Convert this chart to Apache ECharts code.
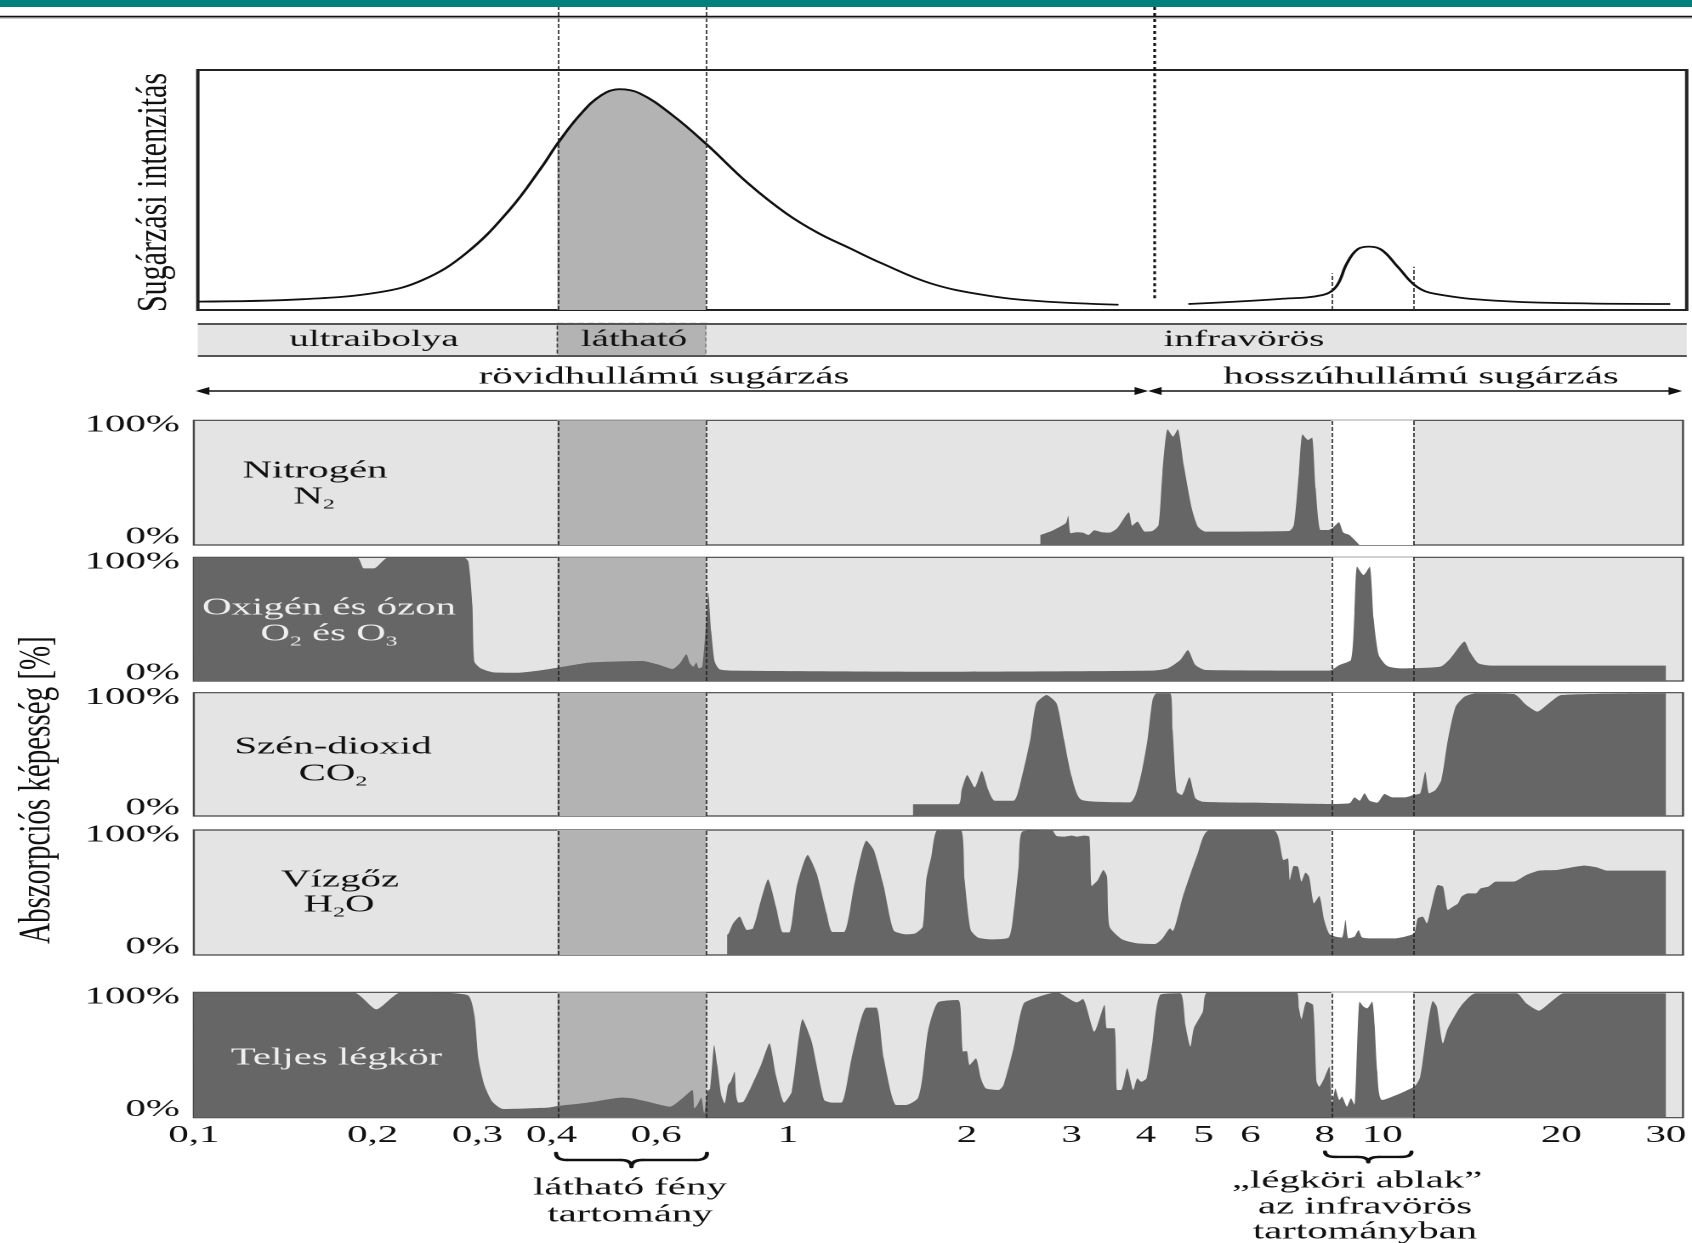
<!DOCTYPE html>
<html>
<head>
<meta charset="utf-8">
<script src="https://cdn.jsdelivr.net/npm/echarts@6/dist/echarts.min.js"></script>
<style>
  html, body { margin: 0; padding: 0; background: #fff; overflow: hidden; }
  /* the drawing is laid out narrow and widened horizontally, giving the wide lettering */
  #chart { width: 995px; height: 1243px; transform: scaleX(1.700502513); transform-origin: 0 0; }
</style>
</head>
<body>
<div id="chart"></div>
<script>
// ---------------- data (wavelength in µm, absorption / intensity in %) ----------------
const xTicks = [0.1, 0.2, 0.3, 0.4, 0.6, 1, 2, 3, 4, 5, 6, 8, 10, 20, 30];
const visibleBand = [0.409, 0.728];
const irWindow = [8.2, 11.28];
const waveSplit = 4.137;

// incoming solar radiation
const solarCurve = [[0.1016,3.5],[0.153,4.5],[0.2052,7.4],[0.2428,12.5],[0.2871,23.6],[0.3398,41.7],[0.3854,59.7],
  [0.409,69.2],[0.4465,81.3],[0.4857,89.6],[0.5204,92],[0.5625,90.3],[0.6379,81.3],[0.728,69.2],[0.8561,52.8],
  [0.992,40.3],[1.125,32],[1.271,25.7],[1.439,19.4],[1.737,11.1],[2.136,6.25],[2.633,3.75],[3.597,2.2]];
// outgoing terrestrial radiation
const earthCurve = [[4.715,2.5],[6.714,4.6],[7.934,6.25],[8.356,9.7],[8.713,19.4],[9.081,25.3],[9.506,26.4],
  [9.972,25],[10.61,18],[11.42,9.7],[12.28,6.7],[15.44,3.9],[21.09,2.8],[30.48,2.5]];

const nitrogen = [[2.658,8],[2.775,11.2],[2.932,17.4],[2.96,23.5],[2.989,9.4],[3.061,10.2],[3.133,9.9],[3.202,8],
  [3.277,11.8],[3.375,10.2],[3.475,9.9],[3.579,13.4],[3.744,26.2],[3.795,15.5],[3.871,18.7],[3.985,10.7],[4.104,11.2],
  [4.202,16],[4.267,58.8],[4.352,92.8],[4.446,86.9],[4.526,92.8],[4.632,64.2],[4.779,29.4],[4.894,14.7],[5.04,10.7],
  [6.962,11.2],[7.098,16],[7.24,58.8],[7.339,88.8],[7.499,84.2],[7.616,86.1],[7.723,45.5],[7.875,12],[8.11,12],
  [8.236,13.4],[8.45,18.2],[8.599,9.9],[8.803,8],[9.155,0]];

const oxygenOzone = [[0.1,100],[0.1879,100],[0.1933,91],[0.2009,91],[0.2129,100],[0.2842,100],[0.2898,96.5],
  [0.2943,61],[0.2966,15.6],[0.3041,10.2],[0.3191,7],[0.3515,6.7],[0.3869,8.9],[0.4093,10.8],[0.4603,14.8],
  [0.4972,15.6],[0.5689,16.2],[0.6029,13.5],[0.6388,9.7],[0.6577,14.3],[0.6743,21.6],[0.6834,14.3],[0.6928,11.6],
  [0.7008,15.1],[0.7077,10.2],[0.7172,11.6],[0.7283,48],[0.734,71.7],[0.7425,39.9],[0.7527,15.6],[0.7674,9.4],
  [0.8048,8.4],[1.733,7.5],[4.104,8.4],[4.352,10.2],[4.57,17],[4.707,25],[4.848,12.9],[5.04,8.9],[8.142,8.4],
  [8.468,12.9],[8.856,17],[8.977,56],[9.067,92.5],[9.299,85.7],[9.521,92.5],[9.668,50.7],[9.86,21],[10.19,12.1],
  [10.71,10.2],[12.52,11.6],[13.02,18.3],[13.75,31.8],[14.03,23.7],[14.5,14.3],[15.23,12.4],[30,12.4]];

const carbonDioxide = [[1.623,9.5],[1.932,9.5],[1.959,21],[2.002,33.2],[2.061,23.2],[2.118,36.5],[2.173,21],
  [2.229,12.4],[2.395,12.4],[2.467,29.2],[2.555,61.6],[2.617,91.4],[2.722,98.1],[2.83,91.4],[2.914,61.6],[3.001,31.9],
  [3.121,13],[3.758,11.1],[3.908,29.2],[4.025,61.6],[4.104,94],[4.169,99.5],[4.395,99.5],[4.438,69.7],[4.509,19.7],
  [4.597,17],[4.735,31.4],[4.848,14.3],[4.989,11.6],[6.069,10.8],[8.142,9.7],[8.803,10.3],[8.977,15.1],[9.155,12.4],
  [9.333,18.4],[9.521,12.4],[9.804,10.8],[10.09,17.8],[10.39,15.1],[10.92,15.1],[11.28,17],[11.58,18.4],[11.81,35.9],
  [11.99,18.4],[12.28,21],[12.57,29.2],[12.89,61.6],[13.28,88.6],[13.75,96.8],[14.36,99.5],[16.63,98.9],[17.47,90],
  [18.23,84.6],[19.07,91.4],[20.02,98.1],[30,99.5]];

const waterVapour = [[0.7897,16],[0.7943,17.3],[0.8082,25.3],[0.8287,30.7],[0.8528,20],[0.8729,21.3],[0.9004,44],
  [0.9252,60.5],[0.9542,38.7],[0.9804,18.1],[1.005,18.1],[1.034,54.7],[1.079,80],[1.117,65.3],[1.161,33.3],
  [1.188,18.4],[1.242,18.4],[1.291,54.7],[1.355,91.5],[1.394,84],[1.449,54.7],[1.506,19.5],[1.58,16.5],[1.637,17.3],
  [1.685,22.7],[1.708,60],[1.742,78.7],[1.787,100],[1.951,100],[1.982,60],[2.029,20],[2.089,13.9],[2.194,12.5],
  [2.35,13.9],[2.395,33.3],[2.443,70.7],[2.477,98.7],[2.775,100],[2.83,95.2],[2.914,94.7],[3.001,95.5],[3.061,94.7],
  [3.151,95.5],[3.214,94.7],[3.245,55.2],[3.321,60],[3.394,68],[3.441,62.7],[3.475,22.7],[3.649,12.5],[3.871,9.3],
  [4.145,8.8],[4.267,13.3],[4.395,21.3],[4.438,19.2],[4.616,46.7],[4.892,81.3],[5.109,99.5],[6.564,99.5],[6.826,76],
  [6.934,77.3],[6.988,60],[7.098,71.2],[7.211,70.7],[7.31,58.7],[7.427,65.9],[7.529,62.7],[7.676,41.3],[7.83,47.2],
  [7.983,28],[8.142,16.8],[8.337,14.7],[8.549,13.9],[8.67,28],[8.77,13.3],[8.977,14.7],[9.12,20],[9.243,14.1],
  [9.521,13.3],[10.5,13.3],[10.92,14.7],[11.31,17.3],[11.47,29.3],[11.69,30.7],[11.88,25.3],[12.09,38.7],[12.4,56],
  [12.65,54.7],[12.89,36],[13.15,38.7],[13.41,41.3],[13.59,46.7],[13.94,49.3],[14.36,49.3],[14.64,53.3],[15.08,54.7],
  [15.53,58.7],[16.63,58.7],[17.47,64],[18.34,67.5],[19.64,68],[20.83,70.1],[21.87,71.5],[22.96,70.1],[23.88,67.5],
  [30,67.5]];

const wholeAtmosphere = [[0.1,100],[0.1853,100],[0.2029,86.4],[0.2234,100],[0.2683,99.5],[0.2898,97.3],[0.2966,81.9],
  [0.3012,47.3],[0.3083,26],[0.3179,12.8],[0.3316,6.9],[0.3945,8],[0.4093,9.3],[0.4603,12],[0.5267,16],[0.5475,15.4],
  [0.5801,12.8],[0.6327,8.8],[0.6637,15.4],[0.6901,22.1],[0.6955,7.4],[0.7035,10.1],[0.7142,16],[0.7226,3.5],
  [0.7311,20.7],[0.7396,23.4],[0.7511,58],[0.76,42],[0.7719,18.1],[0.7821,11.4],[0.7927,26],[0.802,29.3],[0.8128,36.7],
  [0.8176,18.1],[0.8254,12],[0.8414,12.8],[0.8694,26],[0.9004,42],[0.9302,59.3],[0.9539,34],[0.9854,12],[1.0144,20.7],
  [1.058,78.5],[1.096,60.6],[1.15,14.1],[1.184,12],[1.23,12],[1.279,47.3],[1.355,87.8],[1.408,87.8],[1.449,47.3],
  [1.521,10.1],[1.58,10.1],[1.653,15.4],[1.685,34],[1.719,68.6],[1.787,92],[1.932,93.9],[1.951,87.2],[1.97,52.7],
  [1.998,53.2],[2.021,42],[2.07,47.3],[2.111,31.4],[2.152,23.4],[2.26,22.1],[2.304,26],[2.395,55.3],[2.492,91.2],
  [2.642,96.5],[2.83,100],[3.061,92],[3.133,94.7],[3.277,68.6],[3.407,89.9],[3.441,71.3],[3.542,71.3],[3.579,22.1],
  [3.635,22.1],[3.722,39.4],[3.809,22.1],[3.871,31.4],[3.931,28.7],[4.01,31.4],[4.104,60.6],[4.227,97.9],[4.57,99.2],
  [4.662,73.9],[4.754,56.6],[4.818,71.3],[4.989,84.6],[5.089,100],[7.171,100],[7.24,87.2],[7.31,78.7],[7.456,92.6],
  [7.646,89.9],[7.753,28.7],[7.83,24.7],[7.983,31.4],[8.142,40.7],[8.236,11.4],[8.337,23.4],[8.468,14.1],[8.549,16.8],
  [8.72,8.8],[8.856,15.4],[8.977,10.1],[9.155,92.6],[9.299,88.6],[9.428,87.2],[9.612,92.6],[9.706,73.9],[9.804,36.7],
  [9.996,14.1],[11.31,24.7],[11.58,32.7],[11.92,73.9],[12.16,93.1],[12.35,88.6],[12.65,59.3],[12.89,71.3],[13.54,88.6],
  [14.36,99.2],[16.8,99.2],[17.47,91.2],[18.34,85.4],[19.25,92.6],[20.22,99.2],[30,99.2]];

const gasSeries = [nitrogen, oxygenOzone, carbonDioxide, waterVapour, wholeAtmosphere];

// ---------------- layout helpers (page pixels) ----------------
const FONT = '"Liberation Serif", "Times New Roman", serif';
const PAGE_W = 1692;
const S = PAGE_W / 995;          // horizontal widening factor
const px = v => v / S;           // page x -> canvas x

const topBox = { left: 197.8, right: 1686.7, min: 0.1016, max: 32.5 };
const panelBox = { left: 193.8, right: 1683, min: 0.1, max: 32.06 };
const panelRows = [[420.3, 124.7], [557.3, 123.7], [692.7, 123.3], [830, 125], [992.3, 125.4]];

function makeGrid(box, top, height, extra) {
  return Object.assign({
    left: px(box.left), right: px(PAGE_W - box.right), top: top, height: height,
    containLabel: false, outerBoundsMode: 'none'
  }, extra || {});
}

const grids = [
  makeGrid(topBox, 7, 63),
  makeGrid(topBox, 70, 240, { show: true, backgroundColor: '#fff', borderColor: '#222', borderWidth: 2 }),
  makeGrid(topBox, 323.3, 32.7),
  makeGrid(topBox, 380, 22)
].concat(panelRows.map(r => makeGrid(panelBox, r[0], r[1],
  { show: true, backgroundColor: '#e4e4e4', borderColor: '#444', borderWidth: 1.2 })));

const lastGrid = grids.length - 1;
const xAxes = grids.map((g, i) => {
  const box = i < 4 ? topBox : panelBox;
  return {
    type: 'log', logBase: 10, gridIndex: i, min: box.min, max: box.max, show: i >= 4,
    axisLine: { show: false }, axisTick: { show: false }, splitLine: { show: false },
    minorTick: { show: false }, minorSplitLine: { show: false },
    axisLabel: i === lastGrid ? {
      show: true, customValues: xTicks, interval: 0, hideOverlap: false,
      formatter: v => String(+Number(v).toPrecision(4)).replace('.', ','),
      fontFamily: FONT, fontSize: 24, color: '#111', margin: 6
    } : { show: false }
  };
});

const yAxes = grids.map((g, i) => {
  if (i < 4) return { type: 'value', gridIndex: i, min: 0, max: i === 1 ? 100 : 1, show: false };
  return {
    type: 'value', gridIndex: i, min: 0, max: 100, interval: 100,
    axisLine: { show: false }, axisTick: { show: false }, splitLine: { show: false },
    axisLabel: {
      margin: px(14),
      formatter: v => (v === 100 ? '{t|100%}' : '{b|0%}'),
      rich: {
        t: { fontFamily: FONT, fontSize: 24, color: '#111', padding: [10, 0, 0, 0] },
        b: { fontFamily: FONT, fontSize: 24, color: '#111', padding: [0, 0, 16, 0] }
      }
    }
  };
});

const thinDash = { color: '#222', width: 0.8, type: [4, 2] };
const boldDots = { color: '#111', width: 1.6, type: [3, 3] };
const quiet = { silent: true, animation: false };

// ---------------- series ----------------
const series = [];

// dividing lines above the intensity box
series.push(Object.assign({
  type: 'line', xAxisIndex: 0, yAxisIndex: 0, data: [[visibleBand[0], 0.5]],
  symbol: 'none', lineStyle: { opacity: 0 },
  markLine: { silent: true, symbol: 'none', label: { show: false }, lineStyle: thinDash,
    data: [{ xAxis: visibleBand[0] }, { xAxis: visibleBand[1] }, { xAxis: waveSplit, lineStyle: boldDots }] }
}, quiet));

// intensity: grey fill of the visible part
series.push(Object.assign({
  type: 'line', xAxisIndex: 1, yAxisIndex: 1, z: 2, smooth: 0.4, symbol: 'none',
  data: solarCurve.filter(p => p[0] >= visibleBand[0] && p[0] <= visibleBand[1]),
  lineStyle: { width: 0, opacity: 0 }, areaStyle: { color: '#b3b3b3', opacity: 1 }
}, quiet));

// intensity: solar curve
series.push(Object.assign({
  type: 'line', xAxisIndex: 1, yAxisIndex: 1, z: 3, smooth: 0.4, symbol: 'none', data: solarCurve,
  lineStyle: { color: '#111', width: 1.8 },
  markLine: { silent: true, symbol: 'none', label: { show: false }, lineStyle: thinDash,
    data: [
      { xAxis: visibleBand[0] }, { xAxis: visibleBand[1] },
      [{ coord: [waveSplit, 4.9], lineStyle: boldDots }, { coord: [waveSplit, 100] }]
    ] }
}, quiet));

// intensity: terrestrial curve
series.push(Object.assign({
  type: 'line', xAxisIndex: 1, yAxisIndex: 1, z: 3, smooth: 0.4, symbol: 'none', data: earthCurve,
  lineStyle: { color: '#111', width: 1.8 },
  markLine: { silent: true, symbol: 'none', label: { show: false }, lineStyle: thinDash,
    data: [
      [{ coord: [irWindow[0], 0] }, { coord: [irWindow[0], 15.3] }],
      [{ coord: [irWindow[1], 0] }, { coord: [irWindow[1], 18] }]
    ] }
}, quiet));

// spectral band bar
series.push(Object.assign({
  type: 'line', xAxisIndex: 2, yAxisIndex: 2, data: [[visibleBand[0], 0.5]],
  symbol: 'none', lineStyle: { opacity: 0 },
  markArea: { silent: true, label: { show: false },
    data: [
      [{ xAxis: topBox.min, itemStyle: { color: '#e4e4e4' } }, { xAxis: visibleBand[0] }],
      [{ xAxis: visibleBand[0], itemStyle: { color: '#b3b3b3', borderColor: '#333', borderWidth: 0.8, borderType: [4, 2] } }, { xAxis: visibleBand[1] }],
      [{ xAxis: visibleBand[1], itemStyle: { color: '#e4e4e4' } }, { xAxis: topBox.max }]
    ] },
  markLine: { silent: true, symbol: 'none', label: { show: false },
    lineStyle: { color: '#555', width: 2, type: 'solid' },
    data: [{ yAxis: 0 }, { yAxis: 1 }] }
}, quiet));

// short-wave / long-wave arrows
series.push(Object.assign({
  type: 'line', xAxisIndex: 3, yAxisIndex: 3, data: [[1, 0.5]],
  symbol: 'none', lineStyle: { opacity: 0 },
  markLine: { silent: true, symbol: ['triangle', 'triangle'], symbolSize: [8, 8], label: { show: false },
    lineStyle: { color: '#111', width: 1.5, type: 'solid' },
    data: [
      [{ coord: [0.1035, 0.5] }, { coord: [3.93, 0.5] }],
      [{ coord: [4.14, 0.5] }, { coord: [31.1, 0.5] }]
    ] }
}, quiet));

// absorption panels
gasSeries.forEach((data, k) => {
  const i = 4 + k;
  series.push(Object.assign({
    type: 'line', xAxisIndex: i, yAxisIndex: i, z: 2, smooth: 0.2, symbol: 'none', data: data,
    lineStyle: { width: 0, opacity: 0 }, areaStyle: { color: '#666', opacity: 1 },
    markArea: { silent: true, label: { show: false },
      data: [
        [{ xAxis: visibleBand[0], itemStyle: { color: '#b3b3b3' } }, { xAxis: visibleBand[1] }],
        [{ xAxis: irWindow[0], itemStyle: { color: '#fff' } }, { xAxis: irWindow[1] }]
      ] },
    markLine: { silent: true, symbol: 'none', label: { show: false }, lineStyle: thinDash,
      data: [visibleBand[0], visibleBand[1], irWindow[0], irWindow[1]].map(v => ({ xAxis: v })) }
  }, quiet));
});

// ---------------- texts and decorations ----------------
function text(x, y, str, size, opts) {
  opts = opts || {};
  return {
    type: 'text', x: px(x), y: y, z: 100, silent: true,
    rotation: opts.rotation || 0, scaleY: opts.scaleY || 1,
    style: {
      text: str, font: size + 'px ' + FONT, fill: opts.fill || '#111',
      textAlign: 'center', textVerticalAlign: 'middle', align: 'center', verticalAlign: 'middle',
      lineHeight: opts.lineHeight, rich: opts.rich
    }
  };
}
const sub = fill => ({ s: { fontSize: 14, fontFamily: FONT, lineHeight: 14, verticalAlign: 'bottom', fill: fill } });

// curly brace opening downwards, made of quadratic curves and straight pieces
function brace(x0, x1, y0, h) {
  const a = px(x0), b = px(x1), c = (a + b) / 2, r = px(11), ym = y0 + h * 0.5, yt = y0 + h;
  const st = { stroke: '#111', lineWidth: 2.4, fill: null, lineCap: 'round' };
  const curve = (sx, sy, cx, cy, ex, ey) => ({ type: 'bezierCurve', z: 100, silent: true,
    shape: { x1: sx, y1: sy, cpx1: cx, cpy1: cy, x2: ex, y2: ey }, style: st });
  const line = (sx, ex) => ({ type: 'line', z: 100, silent: true,
    shape: { x1: sx, y1: ym, x2: ex, y2: ym }, style: st });
  return [
    curve(a, y0, a, ym, a + r, ym), line(a + r, c - r), curve(c - r, ym, c, ym, c, yt),
    curve(c, yt, c, ym, c + r, ym), line(c + r, b - r), curve(b - r, ym, b, ym, b, y0)
  ];
}

const light = '#eeeeee';
const graphics = [
  { type: 'rect', z: 100, silent: true, shape: { x: 0, y: 0, width: 995, height: 7 }, style: { fill: '#00807c' } },
  { type: 'rect', z: 100, silent: true, shape: { x: 0, y: 15.8, width: 995, height: 1.6 }, style: { fill: '#111' } },
  { type: 'rect', z: 100, silent: true, shape: { x: 0, y: 17.6, width: 995, height: 1 }, style: { fill: '#aaa' } },

  text(154.5, 192.5, 'Sugárzási intenzitás', 30, { rotation: Math.PI / 2, scaleY: 0.85 }),
  text(37.5, 790, 'Abszorpciós képesség [%]', 29, { rotation: Math.PI / 2, scaleY: 0.9 }),

  text(374, 340, 'ultraibolya', 23),
  text(634, 340, 'látható', 23),
  text(1244, 340, 'infravörös', 23),

  text(664, 377, 'rövidhullámú sugárzás', 24),
  text(1421, 377, 'hosszúhullámú sugárzás', 24),

  text(315, 471, 'Nitrogén', 24),
  text(314, 497, 'N{s|2}', 24, { lineHeight: 30, rich: sub('#111') }),
  text(329, 608, 'Oxigén és ózon', 24, { fill: light }),
  text(329, 634, 'O{s|2} és O{s|3}', 24, { fill: light, lineHeight: 30, rich: sub(light) }),
  text(333, 747, 'Szén-dioxid', 24),
  text(333, 774, 'CO{s|2}', 24, { lineHeight: 30, rich: sub('#111') }),
  text(340, 880, 'Vízgőz', 24),
  text(339, 905, 'H{s|2}O', 24, { lineHeight: 30, rich: sub('#111') }),
  text(336.5, 1058, 'Teljes légkör', 24, { fill: light }),

  text(630, 1188, 'látható fény', 24),
  text(630, 1215, 'tartomány', 24),
  text(1357, 1181, '„légköri ablak”', 24),
  text(1365, 1207, 'az infravörös', 24),
  text(1365, 1232, 'tartományban', 24)
].concat(brace(556, 707, 1153, 14), brace(1325, 1411.5, 1151.7, 10.5));

const chart = echarts.init(document.getElementById('chart'), null, { renderer: 'canvas', devicePixelRatio: 2 });
chart.setOption({
  animation: false,
  backgroundColor: '#fff',
  textStyle: { fontFamily: FONT },
  grid: grids,
  xAxis: xAxes,
  yAxis: yAxes,
  series: series,
  graphic: { elements: graphics }
});
</script>
</body>
</html>
